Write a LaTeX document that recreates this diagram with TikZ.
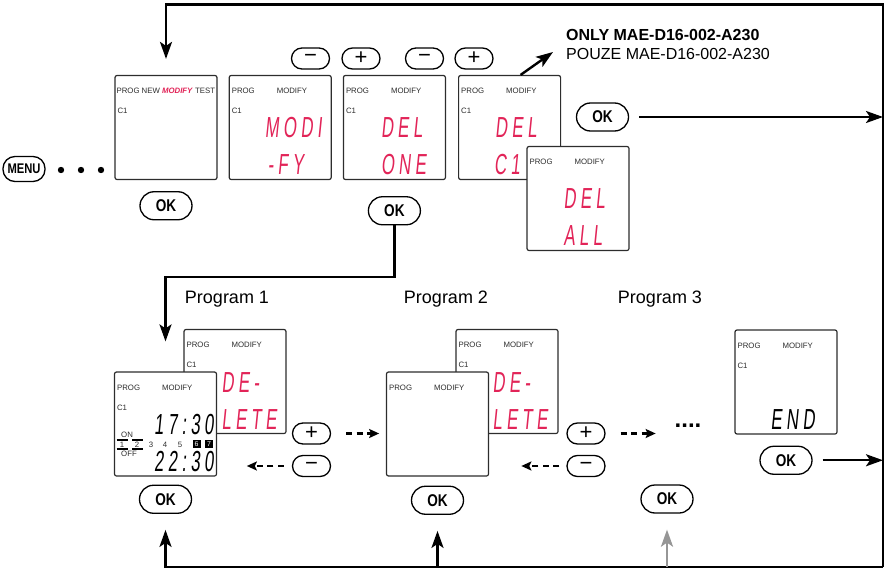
\documentclass[tikz,border=0pt]{standalone}
\usepackage{fontspec}
\setmainfont{Liberation Sans}
\newfontfamily\lcdfont[FakeSlant=0.1, FakeStretch=0.58, LetterSpace=15]{Liberation Sans}
\newfontfamily\keyfont[FakeStretch=0.8]{Liberation Sans}
\usetikzlibrary{arrows.meta, positioning}
\definecolor{lcdred}{RGB}{226,36,88}
\definecolor{inkgray}{RGB}{45,45,45}
\definecolor{arrgray}{RGB}{150,150,150}
\newcommand{\lcdhead}[1]{%
  \node[lbl] (#1-prog) at ([shift={(3,19)}]#1.north west) {PROG};
  \node[lbl] (#1-mod) at ([shift={(48,19)}]#1.north west) {MODIFY};}
\newcommand{\lcdcone}[1]{%
  \node[lbl] (#1-c1) at ([shift={(3,39)}]#1.north west) {C1};}

\begin{document}
\begin{tikzpicture}[
    x=1pt, y=-1pt,
    % Screens
    screen/.style={
      rectangle, draw=inkgray, line width=1.2pt, rounded corners=2pt,
      minimum width=102pt, minimum height=104pt,
      fill=white, inner sep=0pt
    },
    lbl/.style={
      anchor=base west, inner sep=0pt, text=inkgray,
      font=\fontsize{7.8}{8}\selectfont
    },
    seg/.style={
      anchor=west, inner sep=0pt, text=lcdred,
      font=\lcdfont\fontsize{29}{29}\selectfont
    },
    digits/.style={
      anchor=west, inner sep=0pt, text=black,
      font=\lcdfont\fontsize{29}{29}\selectfont
    },
    % Keys
    okbtn/.style={
      rectangle, draw=black, line width=1.3pt, rounded corners=14pt,
      minimum width=52pt, minimum height=28pt, inner sep=0pt,
      font=\keyfont\bfseries\fontsize{17}{17}\selectfont
    },
    pmbtn/.style={
      rectangle, draw=black, line width=1.3pt, rounded corners=10.5pt,
      minimum width=38pt, minimum height=21pt, inner sep=0pt,
      font=\fontsize{22}{22}\selectfont
    },
    progtitle/.style={font=\fontsize{18}{18}\selectfont, inner sep=0pt},
    % Arrows
    arr/.style={-{Stealth[length=17pt, width=12pt, inset=4pt]}, line width=2.4pt},
    dasharr/.style={-{Stealth[length=10pt, width=9pt, inset=2pt]}, line width=2.4pt,
      dash pattern=on 6pt off 4.5pt}
  ]
  \useasboundingbox (0,0) rectangle (887,570);

  % ============ Menu row (top) ============
  \node[rectangle, draw=black, line width=1.3pt, rounded corners=12pt,
    minimum width=42pt, minimum height=25pt, inner sep=0pt,
    font=\keyfont\bfseries\fontsize{14}{14}\selectfont] (menu) at (24,169) {MENU};
  \foreach \x in {61,81,101}
    \fill (\x,170) circle (3.2pt);

  \node[screen] (s1) at (166,127.5) {};
  \node[lbl] (s1-head) at ([shift={(2,19)}]s1.north west)
    {PROG NEW \textcolor{lcdred}{\textbf{\textit{MODIFY}}} TEST};
  \lcdcone{s1}
  \node[okbtn, below=11pt of s1] (ok1) {OK};

  \node[screen, right=11pt of s1] (s2) {};
  \lcdhead{s2}\lcdcone{s2}
  \node[seg] (s2-top) at ([shift={(36,0)}]s2.west) {MODI};
  \node[seg] (s2-bot) at ([shift={(39,37.5)}]s2.west) {-FY};

  \node[screen, right=11pt of s2] (s3) {};
  \lcdhead{s3}\lcdcone{s3}
  \node[seg] (s3-top) at ([shift={(38,0)}]s3.west) {DEL};
  \node[seg] (s3-bot) at ([shift={(38,37.5)}]s3.west) {ONE};
  \node[okbtn, below=16pt of s3] (ok3) {OK};

  \node[screen, right=12pt of s3] (s4) {};
  \lcdhead{s4}\lcdcone{s4}
  \node[seg] (s4-top) at ([shift={(37,0)}]s4.west) {DEL};
  \node[seg] (s4-bot) at ([shift={(36,37.5)}]s4.west) {C1};

  \node[screen] (s5) at (578,198.5) {};
  \lcdhead{s5}
  \node[seg] (s5-top) at ([shift={(37,0)}]s5.west) {DEL};
  \node[seg] (s5-bot) at ([shift={(37,37.5)}]s5.west) {ALL};

  % +/- keys above the screens
  \node[pmbtn] (mA) at (310.5,58.5) {−};
  \node[pmbtn] (pA) at (361,58.5) {+};
  \node[pmbtn] (mB) at (424.5,58.5) {−};
  \node[pmbtn] (pB) at (474,58.5) {+};

  \node[okbtn] (okR) at (602.5,117) {OK};

  \node[anchor=west, align=left, inner sep=0pt, font=\fontsize{16}{19}\selectfont]
    (only) at (566,44) {\textbf{ONLY MAE-D16-002-A230}\\POUZE MAE-D16-002-A230};

  % ============ Program row (bottom) ============
  \node[progtitle] (t1) at (227,299) {Program 1};
  \node[progtitle] (t2) at (446,299) {Program 2};
  \node[progtitle] (t3) at (660,299) {Program 3};

  % Program 1
  \node[screen] (p1b) at (235,381.5) {};
  \lcdhead{p1b}\lcdcone{p1b}
  \node[seg] (p1b-top) at ([shift={(38,1.5)}]p1b.west) {DE-};
  \node[seg] (p1b-bot) at ([shift={(38,38.5)}]p1b.west) {LETE};

  \node[screen] (p1f) at (165.5,424) {};
  \lcdhead{p1f}\lcdcone{p1f}
  \node[digits] (p1f-on-time) at ([shift={(40,1)}]p1f.west) {17:30};
  \node[digits] (p1f-off-time) at ([shift={(40,38)}]p1f.west) {22:30};
  \node[lbl] (p1f-on) at (121,437) {ON};
  \node[lbl] (p1f-off) at (121,456) {OFF};
  \foreach \d/\x in {1/122,2/137,3/151,4/165,5/180}
    \node[lbl, anchor=base] (day\d) at (\x,447) {\d};
  \foreach \d/\x in {6/196.5,7/209}
    \node[rectangle, fill=black, text=white, inner sep=0pt, minimum size=8pt,
      font=\fontsize{7}{7}\selectfont] (day\d) at (\x,444) {\d};
  \foreach \x in {116.5,132}
    \draw[line width=1.4pt] (\x,440) -- ++(11,0) (\x,449) -- ++(11,0);
  \node[okbtn, below=8pt of p1f] (ok1b) {OK};

  \node[pmbtn] (plus1) at (311.5,433.5) {+};
  \node[pmbtn] (minus1) at (311.5,466) {−};

  % Program 2
  \node[screen] (p2b) at (507,381.5) {};
  \lcdhead{p2b}\lcdcone{p2b}
  \node[seg] (p2b-top) at ([shift={(37,1.5)}]p2b.west) {DE-};
  \node[seg] (p2b-bot) at ([shift={(37,38.5)}]p2b.west) {LETE};

  \node[screen] (p2f) at (437.5,424) {};
  \lcdhead{p2f}
  \node[okbtn, below=9pt of p2f] (ok2b) {OK};

  \node[pmbtn] (plus2) at (586,433.5) {+};
  \node[pmbtn] (minus2) at (586,466) {−};

  % Program 3 and end
  \node[font=\bfseries\fontsize{24}{24}\selectfont, inner sep=0pt] (more) at (688,426) {....};
  \node[okbtn] (ok3b) at (667,499) {OK};

  \node[screen] (sEnd) at (786,382) {};
  \lcdhead{sEnd}\lcdcone{sEnd}
  \node[digits] (sEnd-txt) at ([shift={(36,38)}]sEnd.west) {END};
  \node[okbtn, below=11pt of sEnd] (okE) {OK};

  % ============ Arrows ============
  \coordinate (ne) at (883,4.5);
  \coordinate (se) at (883,567);

  % outer loop
  \draw[arr] (okR.east) ++(10,0) -- (okR.east -| ne);
  \draw[arr] (se) -- (ne) -| ([yshift=16pt]s1.north);
  \draw[arr] (okE.east) ++(10,0) -- (okE.east -| ne);
  \draw[arr] (se) -| ([yshift=-16pt]ok1b.south);
  \draw[arr] (ok2b.south |- se) -- ([yshift=-16pt]ok2b.south);
  \draw[arr, color=arrgray] (ok3b.south |- se) -- ([yshift=-16pt]ok3b.south);

  % into the programs
  \draw[arr] (ok3.south) -- ++(0,51.5) -| ([yshift=30pt]p1f.north);
  \draw[arr] ([xshift=11pt]s4.north) -- ([shift={(-13pt,-8pt)}]only.west);

  % stepping between programs
  \draw[dasharr] ([xshift=15pt]plus1.east) -- ([xshift=48pt]plus1.east);
  \draw[dasharr] ([xshift=-8pt]minus1.west) -- ([xshift=-45pt]minus1.west);
  \draw[dasharr] ([xshift=15pt]plus2.east) -- ([xshift=50pt]plus2.east);
  \draw[dasharr] ([xshift=-7pt]minus2.west) -- ([xshift=-45pt]minus2.west);

\end{tikzpicture}
\end{document}
